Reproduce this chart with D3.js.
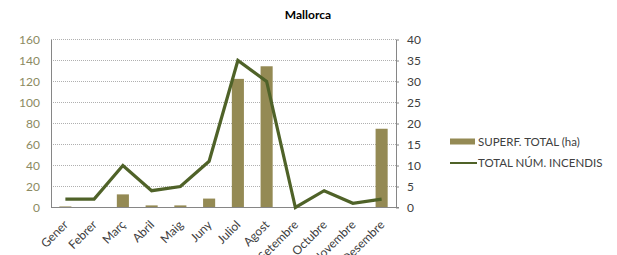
<!DOCTYPE html>
<html><head><meta charset="utf-8">
<script src="https://cdn.jsdelivr.net/npm/d3@7"></script>
<style>body{margin:0;background:#fff}svg{display:block}text{font-family:Lato,"Open Sans",sans-serif}</style>
</head><body><svg id="c" width="617" height="255"></svg>
<script>
const months = ["Gener","Febrer","Març","Abril","Maig","Juny","Juliol","Agost","Setembre","Octubre","Novembre","Desembre"];
const superficie = [1, 0, 12.5, 2, 2, 8.5, 122.5, 134.5, 0, 0, 0, 75];
const incendis = [2, 2, 10, 4, 5, 11, 35, 30, 0, 4, 1, 2];
const leftTicks = [0,20,40,60,80,100,120,140,160];
const rightTicks = [0,5,10,15,20,25,30,35,40];
const seriesNames = ["SUPERF. TOTAL (ha)", "TOTAL NÚM. INCENDIS"];

const svg = d3.select("#c");
const m = {l:51, r:396, t:39.5, b:207.5};
const x = d3.scaleBand().domain(months).range([m.l, m.r]).paddingInner(0.58).paddingOuter(0.29);
const xc = d3.scalePoint().domain(months).range([m.l, m.r]).padding(0.5);
const yL = d3.scaleLinear().domain([0,160]).range([m.b, m.t]);
const yR = d3.scaleLinear().domain([0,40]).range([m.b, m.t]);
const barColor = "#948a54", lineColor = "#4f6228";

// gridlines
svg.append("g").selectAll("line").data(leftTicks.filter(d=>d>0)).join("line")
  .attr("x1", m.l).attr("x2", m.r).attr("y1", d=>yL(d)).attr("y2", d=>yL(d))
  .attr("stroke", "#b0b0b0").attr("stroke-width", 1).attr("stroke-dasharray", "1,1");

// bars
svg.append("g").selectAll("rect").data(months).join("rect")
  .attr("x", d=>x(d)).attr("width", x.bandwidth())
  .attr("y", (d,i)=>yL(superficie[i])).attr("height", (d,i)=>yL(0)-yL(superficie[i]))
  .attr("fill", barColor);

// axes
const axL = svg.append("g").attr("transform", `translate(${m.l},0)`)
  .call(d3.axisLeft(yL).tickValues(leftTicks).tickSize(0).tickPadding(11));
axL.select(".domain").attr("stroke", "#868686");
axL.selectAll("text").attr("fill", "#8c8a62").attr("font-size", 12);

const axR = svg.append("g").attr("transform", `translate(${m.r},0)`)
  .call(d3.axisRight(yR).tickValues(rightTicks).tickSizeInner(0).tickSizeOuter(0).tickPadding(11));
axR.select(".domain").attr("stroke", "#868686");
axR.selectAll("text").attr("fill", "#404040").attr("font-size", 12);
axR.selectAll(".tick").append("line").attr("x1", 0).attr("x2", 3).attr("stroke", "#868686");

const axB = svg.append("g").attr("transform", `translate(0,${m.b})`)
  .call(d3.axisBottom(xc).tickSize(0).tickPadding(0));
axB.select(".domain").attr("d", `M${m.l},0H${m.r+3}`).attr("stroke", "#868686");
axB.selectAll("text").attr("fill", "#404040").attr("font-size", 12)
  .attr("text-anchor", "end").attr("y", 0).attr("dy", 0)
  .attr("transform", "translate(3,18) rotate(-45)");

// line
svg.append("path").datum(incendis)
  .attr("d", d3.line().x((d,i)=>xc(months[i])).y(d=>yR(d)))
  .attr("fill", "none").attr("stroke", lineColor).attr("stroke-width", 3.2).attr("stroke-linejoin", "miter");

// title
svg.append("text").attr("x", 308).attr("y", 19).attr("text-anchor", "middle")
  .attr("font-weight", "bold").attr("font-size", 12).attr("fill", "#000").text("Mallorca");

// legend
const lg = svg.append("g");
lg.append("rect").attr("x", 450).attr("y", 138.5).attr("width", 25).attr("height", 6).attr("fill", barColor);
lg.append("text").attr("x", 478).attr("y", 146).attr("font-size", 11.5).attr("fill", "#404040").text(seriesNames[0]);
lg.append("line").attr("x1", 450).attr("x2", 477).attr("y1", 163).attr("y2", 163).attr("stroke", lineColor).attr("stroke-width", 2);
lg.append("text").attr("x", 478).attr("y", 167).attr("font-size", 11.5).attr("fill", "#404040").text(seriesNames[1]);
</script></body></html>
